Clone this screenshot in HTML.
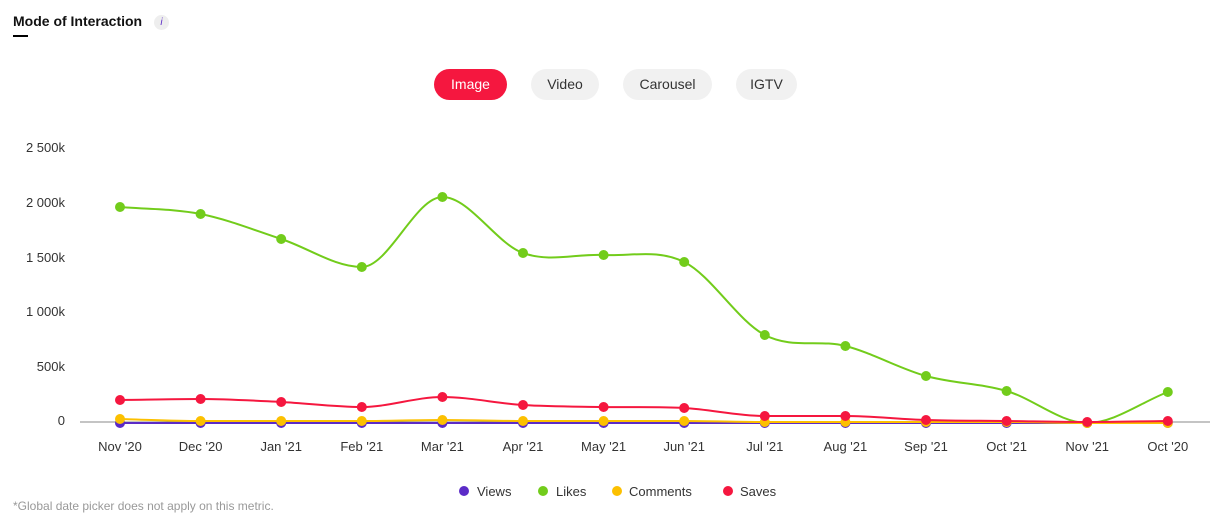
<!DOCTYPE html><html><head><style>
body{margin:0;width:1221px;height:519px;background:#fff;font-family:"Liberation Sans",sans-serif;position:relative;overflow:hidden}
.t{position:absolute;left:13px;top:13px;font-size:14px;color:#111;font-weight:bold}
.ul{position:absolute;left:13px;top:35px;width:15px;height:2px;background:#000}
.i{position:absolute;left:154px;top:15px;width:15px;height:15px;border-radius:50%;background:#eee;color:#5b2bc7;font-size:10px;font-style:italic;text-align:center;line-height:15px}
.b{position:absolute;top:69px;height:31px;border-radius:16px;background:#f1f1f1;color:#333;font-size:14px;line-height:31px;text-align:center}
.foot{position:absolute;left:13px;top:499px;font-size:12px;color:#999}
</style></head><body>
<div class="t">Mode of Interaction</div><div class="ul"></div><div class="i">i</div>
<div class="b" style="left:434px;width:73px;background:#f5173f;color:#fff">Image</div>
<div class="b" style="left:531px;width:68px">Video</div>
<div class="b" style="left:623px;width:89px">Carousel</div>
<div class="b" style="left:736px;width:61px">IGTV</div>
<svg width="1221" height="519" style="position:absolute;left:0;top:0" font-family="Liberation Sans" font-size="13" fill="#333">
<g text-anchor="end"><text x="65" y="152">2 500k</text><text x="65" y="207">2 000k</text><text x="65" y="262">1 500k</text><text x="65" y="316">1 000k</text><text x="65" y="371">500k</text><text x="65" y="425">0</text></g>
<line x1="80" y1="422" x2="1210" y2="422" stroke="#888"/>
<g text-anchor="middle" id="xl"></g>
<g id="s"></g>
<g font-size="13"><circle cx="464" cy="491" r="5" fill="#5b2bc7"/><text x="477" y="496">Views</text>
<circle cx="543" cy="491" r="5" fill="#72cc1b"/><text x="556" y="496">Likes</text>
<circle cx="617" cy="491" r="5" fill="#fcc000"/><text x="629" y="496">Comments</text>
<circle cx="728" cy="491" r="5" fill="#f5173f"/><text x="740" y="496">Saves</text></g>
</svg>
<div class="foot">*Global date picker does not apply on this metric.</div>
<script>
var xs=[],lab=["Nov '20","Dec '20","Jan '21","Feb '21","Mar '21","Apr '21","May '21","Jun '21","Jul '21","Aug '21","Sep '21","Oct '21","Nov '21","Oct '20"];
for(var i=0;i<14;i++)xs.push(120+i*80.6);
var ns="http://www.w3.org/2000/svg",xl=document.getElementById("xl"),s=document.getElementById("s");
lab.forEach(function(l,i){var t=document.createElementNS(ns,"text");t.setAttribute("x",xs[i]);t.setAttribute("y",451);t.textContent=l;xl.appendChild(t)});
function path(ys){var d="M"+xs[0]+","+ys[0];for(var i=0;i<ys.length-1;i++){var x0=xs[i],x1=xs[i+1],y0=ys[i],y1=ys[i+1];
var m0=i>0?(ys[i+1]-ys[i-1])/2:(y1-y0),m1=i<ys.length-2?(ys[i+2]-ys[i])/2:(y1-y0);
if((y1-y0)*(y0-(i>0?ys[i-1]:y0))<=0&&i>0)m0=0; if(i<ys.length-2&&(ys[i+2]-y1)*(y1-y0)<=0)m1=0;
d+=" C"+(x0+26.9)+","+(y0+m0/3)+" "+(x1-26.9)+","+(y1-m1/3)+" "+x1+","+y1}return d}
function ser(ys,c){var p=document.createElementNS(ns,"path");p.setAttribute("d",path(ys));p.setAttribute("fill","none");p.setAttribute("stroke",c);p.setAttribute("stroke-width",2);s.appendChild(p);
ys.forEach(function(y,i){var e=document.createElementNS(ns,"circle");e.setAttribute("cx",xs[i]);e.setAttribute("cy",y);e.setAttribute("r",5);e.setAttribute("fill",c);s.appendChild(e)})}
ser([423,423,423,423,423,423,423,423,423,423,423,423,423,423],"#5b2bc7");
ser([207,214,239,267,197,253,255,262,335,346,376,391,423,392],"#72cc1b");
ser([419,421,421,421,420,421,421,421,422,422,422,422,423,423],"#fcc000");
ser([400,399,402,407,397,405,407,408,416,416,420,421,422,421],"#f5173f");
</script>
</body></html>
